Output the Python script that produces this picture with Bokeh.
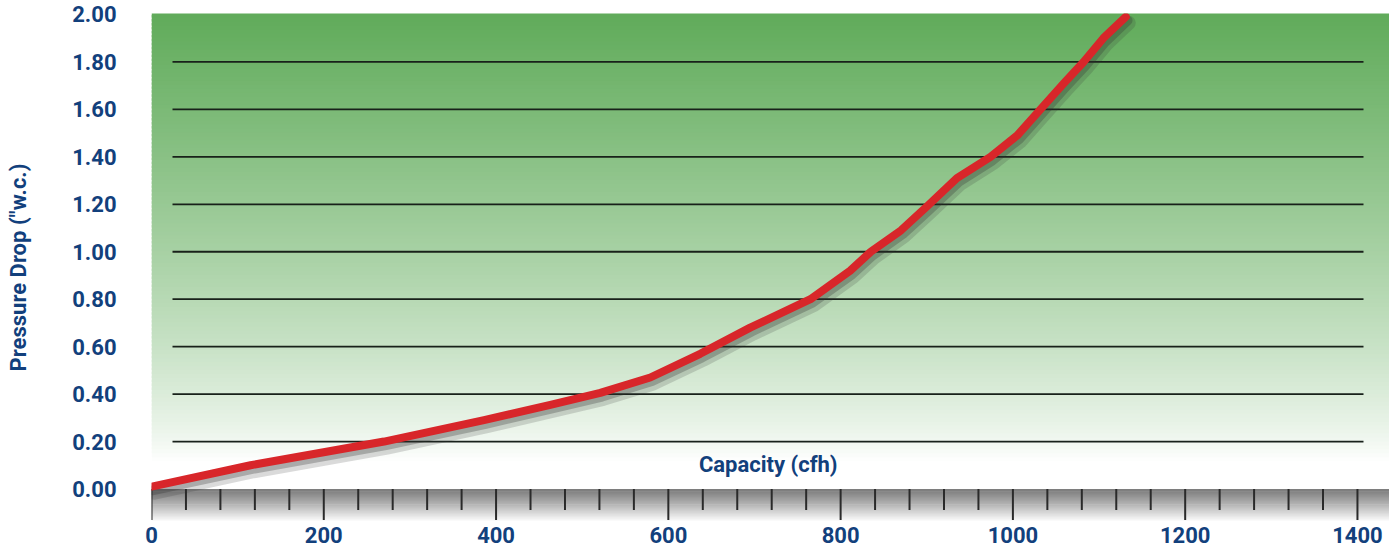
import numpy as np
from bokeh.plotting import figure
from bokeh.models import Range1d, FixedTicker, Label
from bokeh.embed import file_html
from bokeh.resources import INLINE

# ---- data ----
capacity = [0, 115, 270, 386, 463, 521, 579, 637, 695, 765, 811, 835, 870,
            900, 935, 974, 1005, 1032, 1059, 1082, 1105, 1131]
pressure = [0.01, 0.10, 0.20, 0.29, 0.355, 0.405, 0.47, 0.57, 0.68, 0.80, 0.92,
            1.00, 1.09, 1.19, 1.31, 1.40, 1.49, 1.60, 1.71, 1.80, 1.90, 1.99]
y_ticks = [0.0, 0.2, 0.4, 0.6, 0.8, 1.0, 1.2, 1.4, 1.6, 1.8, 2.0]
y_tick_labels = ["0.00", "0.20", "0.40", "0.60", "0.80", "1.00", "1.20",
                 "1.40", "1.60", "1.80", "2.00"]
x_ticks = [0, 200, 400, 600, 800, 1000, 1200, 1400]
x_tick_labels = ["0", "200", "400", "600", "800", "1000", "1200", "1400"]
x_minor = list(range(0, 1401, 40))
grid_levels = [0.2, 0.4, 0.6, 0.8, 1.0, 1.2, 1.4, 1.6, 1.8]

FONT = "Roboto"
BLUE = "#12407c"
FS = "22px"

px_per_y = 237.25
px_per_x = 0.8614
x0, x1 = 0, 1437.2
y0, y1 = -0.137, 2.0042

p = figure(width=1389, height=552, output_backend="svg", toolbar_location=None,
           x_range=Range1d(x0, x1), y_range=Range1d(y0, y1),
           min_border_left=151, min_border_right=0, min_border_top=13,
           min_border_bottom=31)
p.outline_line_color = None
p.background_fill_color = "white"
p.border_fill_color = "white"
p.xgrid.visible = False
p.ygrid.visible = False

# green gradient background (above zero); strips overlap to avoid seams
n = 120
edges = np.linspace(0, y1, n + 1)
step = edges[1] - edges[0]
green = np.array([96, 171, 90])
white = np.array([255, 255, 255])
cols = []
for a, b in zip(edges[:-1], edges[1:]):
    ym = 0.5 * (a + b)
    t = np.clip((y1 - ym) / (y1 - 0.12), 0, 1)
    f = 1 - (1 - t) ** 0.78
    c = green + (white - green) * f
    cols.append("#%02x%02x%02x" % tuple(int(round(v)) for v in c))
p.quad(left=x0, right=x1, bottom=edges[:-1], top=edges[1:] + step * 0.6,
       fill_color=cols, line_color=None)

# grey band below the zero line
m = 30
bedges = np.linspace(y0, 0, m + 1)
bstep = bedges[1] - bedges[0]
bcols = []
grey = np.array([125, 125, 125])
for a, b in zip(bedges[:-1], bedges[1:]):
    ym = 0.5 * (a + b)
    t = np.clip(-ym / 0.135, 0, 1)
    c = grey + (white - grey) * t ** 1.1
    bcols.append("#%02x%02x%02x" % tuple(int(round(v)) for v in c))
p.quad(left=x0, right=x1, bottom=bedges[:-1] - bstep * 0.6, top=bedges[1:],
       fill_color=bcols, line_color=None)

# x ticks drawn in band
major_set = set(x_ticks)
minor_only = [v for v in x_minor if v not in major_set]
p.segment(x0=x_ticks, x1=x_ticks, y0=[0] * len(x_ticks),
          y1=[-31 / px_per_y] * len(x_ticks), line_color="#2a2a2a", line_width=2)
p.segment(x0=minor_only, x1=minor_only, y0=[0] * len(minor_only),
          y1=[-21 / px_per_y] * len(minor_only), line_color="#2a2a2a", line_width=2)

# horizontal gridlines (not full width)
gx0 = 21 / px_per_x
gx1 = 1212 / px_per_x
p.segment(x0=[gx0] * len(grid_levels), x1=[gx1] * len(grid_levels),
          y0=grid_levels, y1=grid_levels, line_color="#18211a", line_width=1.8)

# curve shadow + curve
dx = 3 / px_per_x
dy = 6 / px_per_y
p.line([c + dx for c in capacity], [v - dy for v in pressure], line_color="#303030",
       line_alpha=0.18, line_width=14, line_join="round", line_cap="round")
p.line([c + dx * 0.6 for c in capacity], [v - dy * 0.6 for v in pressure],
       line_color="#303030", line_alpha=0.28, line_width=10, line_join="round",
       line_cap="round")
p.line(capacity, pressure, line_color="#d8262a", line_width=8,
       line_join="round", line_cap="round")

# x-axis title inside the plot
p.add_layout(Label(x=716, y=(488.5 - 464) / px_per_y, text="Capacity (cfh)",
                   text_align="center", text_baseline="middle", text_font=FONT,
                   text_font_size=FS, text_font_style="bold", text_color=BLUE))

# axes
xa = p.xaxis[0]
xa.ticker = FixedTicker(ticks=x_ticks)
xa.major_label_overrides = {v: l for v, l in zip(x_ticks, x_tick_labels)}
ya = p.yaxis[0]
ya.ticker = FixedTicker(ticks=y_ticks)
ya.major_label_overrides = {v: l for v, l in zip(y_ticks, y_tick_labels)}
ya.axis_label = 'Pressure Drop ("w.c.)'
ya.axis_label_standoff = 38
ya.axis_label_text_font = FONT
ya.axis_label_text_font_size = FS
ya.axis_label_text_font_style = "bold"
ya.axis_label_text_color = BLUE

for ax in (xa, ya):
    ax.axis_line_color = None
    ax.major_tick_line_color = None
    ax.minor_tick_line_color = None
    ax.major_tick_out = 0
    ax.major_tick_in = 0
    ax.major_label_text_font = FONT
    ax.major_label_text_font_size = FS
    ax.major_label_text_font_style = "bold"
    ax.major_label_text_color = BLUE
xa.major_label_standoff = 5
ya.major_label_standoff = 35

open("out.html", "w").write(file_html(p, INLINE))
